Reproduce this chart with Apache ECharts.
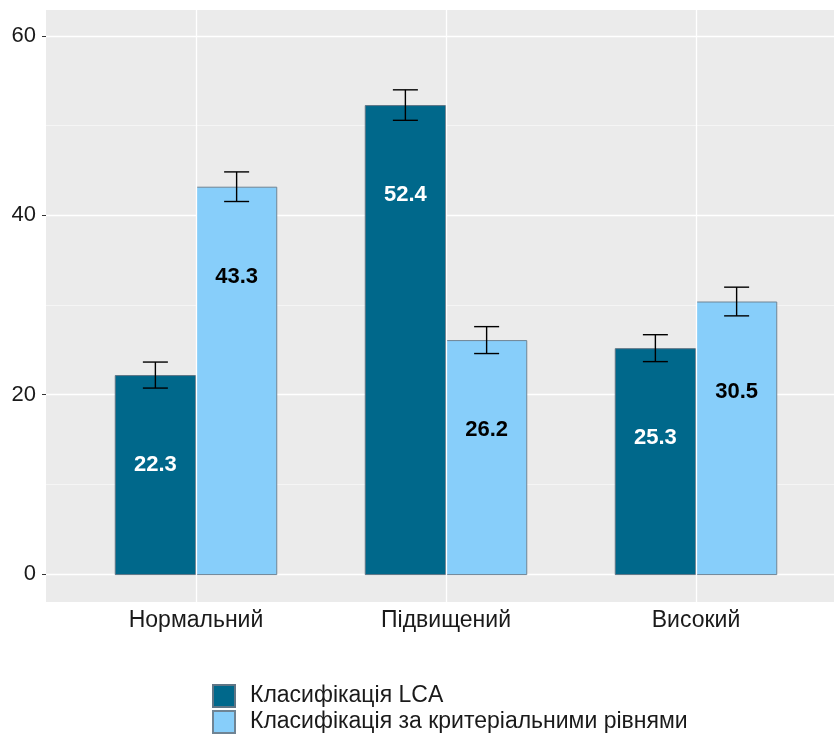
<!DOCTYPE html>
<html><head><meta charset="utf-8">
<script src="https://cdn.jsdelivr.net/npm/echarts@6/dist/echarts.min.js"></script>
<style>html,body{margin:0;padding:0;background:#fff}#c{width:834px;height:735px}</style>
</head><body><div id="c"></div>
<script>
const categories = ['Нормальний', 'Підвищений', 'Високий'];
const seriesNames = ['Класифікація LCA', 'Класифікація за критеріальними рівнями'];
const lcaValues = [22.3, 52.4, 25.3];
const critValues = [43.3, 26.2, 30.5];
const lcaErrors = [1.45, 1.7, 1.5];
const critErrors = [1.65, 1.5, 1.6];
const yTicks = [0, 20, 40, 60];

const FONT = '"Liberation Sans", Arial, sans-serif';
const BAR_FRAC = 0.325;
const CAP_FRAC = 0.1;
const Y_PAD = 3;

function errData(vals, errs) {
  return vals.map((v, i) => [i, v - errs[i], v + errs[i]]);
}
function errRender(side) {
  return function (params, api) {
    const cat = api.value(0), lo = api.value(1), hi = api.value(2);
    const band = api.size([1, 0])[0];
    const shift = side * band * BAR_FRAC / 2;
    const pHi = api.coord([cat, hi]), pLo = api.coord([cat, lo]);
    const x = pHi[0] + shift, half = band * CAP_FRAC / 2;
    const st = { stroke: '#000', lineWidth: 1.4 };
    return { type: 'group', children: [
      { type: 'line', shape: { x1: x, y1: pHi[1], x2: x, y2: pLo[1] }, style: st },
      { type: 'line', shape: { x1: x - half, y1: pHi[1], x2: x + half, y2: pHi[1] }, style: st },
      { type: 'line', shape: { x1: x - half, y1: pLo[1], x2: x + half, y2: pLo[1] }, style: st }
    ]};
  };
}

const chart = echarts.init(document.getElementById('c'), null, { renderer: 'canvas' });
const option = {
  animation: false,
  textStyle: { fontFamily: FONT },
  grid: [
    { left: 46, right: 0, top: 36, bottom: 161, show: true, backgroundColor: 'transparent', borderWidth: 0 },
    { left: 71, right: 13, top: 10, bottom: 133 },
    { left: 46, right: 0, top: 10, bottom: 133, show: true, backgroundColor: '#EBEBEB', borderWidth: 0, z: -1 }
  ],
  xAxis: [
    { type: 'value', gridIndex: 0, show: false },
    { type: 'category', gridIndex: 1, data: categories,
      axisLine: { show: false },
      axisTick: { show: true, alignWithLabel: true, length: 4, lineStyle: { color: '#333', width: 1 } },
      axisLabel: { color: '#1a1a1a', fontSize: 23, margin: 7, fontFamily: FONT },
      splitLine: { show: false } },
    { type: 'value', gridIndex: 2, show: false }
  ],
  yAxis: [
    { type: 'value', gridIndex: 0, min: yTicks[0], max: yTicks[yTicks.length - 1], interval: yTicks[1] - yTicks[0],
      axisLine: { show: false },
      axisTick: { show: true, length: 4, lineStyle: { color: '#333', width: 1 } },
      axisLabel: { color: '#1a1a1a', fontSize: 22, margin: 10, fontFamily: FONT },
      splitLine: { show: true, lineStyle: { color: '#fff', width: 1.3 } },
      minorTick: { show: false, splitNumber: 2 },
      minorSplitLine: { show: true, lineStyle: { color: '#F7F7F7', width: 0.8 } } },
    { type: 'value', gridIndex: 1, min: yTicks[0] - Y_PAD, max: yTicks[yTicks.length - 1] + Y_PAD, show: false },
    { type: 'value', gridIndex: 2, show: false }
  ],
  legend: {
    orient: 'vertical', left: 212, top: 684, padding: 0, itemWidth: 22, itemHeight: 22, itemGap: 2,
    icon: 'rect', data: seriesNames,
    textStyle: { fontSize: 23, color: '#1a1a1a', fontFamily: FONT, padding: [0, 0, 0, 10] }
  },
  series: [
    { type: 'line', xAxisIndex: 1, yAxisIndex: 1, data: [], z: 1, silent: true,
      markLine: { symbol: 'none', silent: true, label: { show: false },
        lineStyle: { color: '#fff', width: 1.3, type: 'solid' },
        data: categories.map((c) => ({ xAxis: c })) } },
    { name: seriesNames[0], type: 'bar', xAxisIndex: 1, yAxisIndex: 1, data: lcaValues,
      barWidth: (BAR_FRAC * 100) + '%', barGap: '0%', z: 2,
      itemStyle: { color: '#00688B', borderColor: '#5f7585', borderWidth: 1 },
      label: { show: true, position: 'insideTop', distance: 79, color: '#fff', fontWeight: 'bold', fontSize: 22, fontFamily: FONT } },
    { name: seriesNames[1], type: 'bar', xAxisIndex: 1, yAxisIndex: 1, data: critValues,
      barWidth: (BAR_FRAC * 100) + '%', barGap: '0%', z: 2,
      itemStyle: { color: '#87CEFA', borderColor: '#6f8494', borderWidth: 1 },
      label: { show: true, position: 'insideTop', distance: 79, color: '#000', fontWeight: 'bold', fontSize: 22, fontFamily: FONT } },
    { type: 'custom', xAxisIndex: 1, yAxisIndex: 1, z: 3, silent: true, data: errData(lcaValues, lcaErrors),
      encode: { x: 0, y: [1, 2] }, renderItem: errRender(-1) },
    { type: 'custom', xAxisIndex: 1, yAxisIndex: 1, z: 3, silent: true, data: errData(critValues, critErrors),
      encode: { x: 0, y: [1, 2] }, renderItem: errRender(1) }
  ]
};
chart.setOption(option);
</script></body></html>
